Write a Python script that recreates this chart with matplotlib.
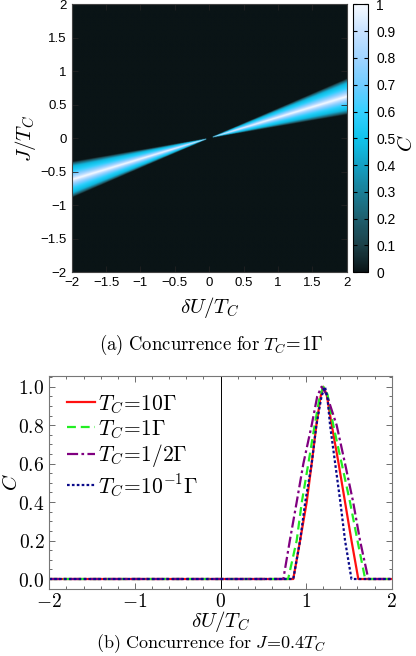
import numpy as np
import matplotlib
matplotlib.use("Agg")
import matplotlib.pyplot as plt
from matplotlib.colors import LinearSegmentedColormap
from matplotlib.ticker import MultipleLocator, FuncFormatter

plt.rcParams['mathtext.fontset'] = 'cm'

# ---------------- data ----------------
# (a) heatmap: concurrence profile across the ridge, as function of ratio J/dU
ridge_ratio = [0.10, 0.175, 0.19, 0.21, 0.245, 0.28, 0.31, 0.34, 0.375, 0.41, 0.43, 0.445, 0.55]
ridge_C = [0.0, 0.0, 0.22, 0.45, 0.58, 0.78, 1.0, 0.78, 0.58, 0.45, 0.22, 0.0, 0.0]
heat_range = [-2, 2]
cbar_ticks = [0, 0.1, 0.2, 0.3, 0.4, 0.5, 0.6, 0.7, 0.8, 0.9, 1]

# (b) curves of C vs dU/T_C at J = 0.4 T_C
x_red = [-2, 0.85, 0.93, 1.007, 1.065, 1.12, 1.17, 1.20, 1.24, 1.30, 1.38, 1.455, 1.53, 1.61, 2]
y_red = [0, 0, 0.2, 0.4, 0.6, 0.8, 0.95, 1.0, 0.96, 0.8, 0.6, 0.4, 0.2, 0, 0]
x_green = [-2, 0.79, 0.89, 0.95, 1.026, 1.10, 1.16, 1.20, 1.25, 1.318, 1.416, 1.513, 1.60, 1.69, 2]
y_green = [0, 0, 0.2, 0.4, 0.6, 0.8, 0.95, 1.0, 0.96, 0.8, 0.6, 0.4, 0.2, 0, 0]
x_purple = [-2, 0.734, 0.81, 0.89, 0.968, 1.065, 1.13, 1.18, 1.24, 1.357, 1.455, 1.55, 1.63, 1.727, 2]
y_purple = [0, 0, 0.2, 0.4, 0.6, 0.8, 0.95, 1.0, 0.96, 0.8, 0.6, 0.4, 0.2, 0, 0]
x_blue = [-2, 0.85, 0.93, 0.99, 1.065, 1.12, 1.18, 1.22, 1.25, 1.28, 1.34, 1.40, 1.455, 1.53, 2]
y_blue = [0, 0, 0.2, 0.4, 0.6, 0.8, 0.95, 1.0, 0.94, 0.8, 0.6, 0.4, 0.2, 0, 0]
labels = [r'$T_C\!=\!10\Gamma$', r'$T_C\!=\!1\Gamma$', r'$T_C\!=\!1/2\Gamma$',
          r'$T_C\!=\!10^{-1}\Gamma$']

# ---------------- figure ----------------
W, H = 416, 656
fig = plt.figure(figsize=(W / 100, H / 100), dpi=100)

def box(l, t, r, b):
    return [l / W, 1 - b / H, (r - l) / W, (b - t) / H]

# ---- (a) heatmap ----
ax1 = fig.add_axes(box(71.7, 4.3, 346.7, 272.3))
n = 500
du = np.linspace(heat_range[0], heat_range[1], n)
jj = np.linspace(heat_range[0], heat_range[1], n)
DU, JJ = np.meshgrid(du, jj)
with np.errstate(divide='ignore', invalid='ignore'):
    R = np.where(np.abs(DU) > 0.05, JJ / DU, -1)
C = np.interp(R, ridge_ratio, ridge_C, left=0, right=0)

cmap = LinearSegmentedColormap.from_list('conc', [
    (0.0, '#0a1416'), (0.1, '#1c4048'), (0.2, '#1e5f6e'), (0.3, '#1a7e96'),
    (0.4, '#14a0c4'), (0.5, '#10c4ec'), (0.6, '#34d0ff'), (0.7, '#70ccff'),
    (0.8, '#a0d4ff'), (0.9, '#c8e2ff'), (1.0, '#f6faff')])
im = ax1.imshow(C, origin='lower', extent=[-2, 2, -2, 2], aspect='auto',
                cmap=cmap, vmin=0, vmax=1, interpolation='bilinear')

sans = 'Liberation Sans'
fmt = FuncFormatter(lambda v, p: ('%g' % v).replace('-', '\u2212'))
ax1.xaxis.set_major_locator(MultipleLocator(0.5))
ax1.yaxis.set_major_locator(MultipleLocator(0.5))
ax1.xaxis.set_major_formatter(fmt)
ax1.yaxis.set_major_formatter(fmt)
ax1.tick_params(direction='in', length=4, width=0.6, colors='#222222',
                labelcolor='black', labelsize=9.5, top=True, right=True)
for lab in ax1.get_xticklabels() + ax1.get_yticklabels():
    lab.set_family(sans)
for s in ax1.spines.values():
    s.set_linewidth(0.8)
    s.set_color('#444444')
ax1.set_xlabel(r'$\delta U/T_C$', fontsize=15, labelpad=4)
ax1.set_ylabel(r'$J/T_C$', fontsize=15, labelpad=2)

cax = fig.add_axes(box(353.3, 4.3, 367.7, 272.3))
cb = fig.colorbar(im, cax=cax)
cb.set_ticks(cbar_ticks)
cb.ax.yaxis.set_major_formatter(fmt)
cb.ax.tick_params(direction='in', length=3, width=0.8, labelsize=10,
                  left=True, right=True, pad=6)
for lab in cb.ax.get_yticklabels():
    lab.set_family(sans)
cb.outline.set_linewidth(0.8)
fig.text(406 / W, 1 - 143 / H, r'$C$', fontsize=15, rotation=90,
         ha='center', va='center')

fig.text(211 / W, 1 - 345 / H, r'$\mathrm{(a)\ Concurrence\ for\ }T_C\!=\!1\Gamma$',
         fontsize=13.5, ha='center', va='center')

# ---- (b) line plot ----
ax2 = fig.add_axes(box(49.3, 376, 391.7, 589))
ax2.axvline(0, color='black', lw=0.7)
ax2.plot(x_red, y_red, color='#ff1010', lw=1.6, ls='-', label=labels[0])
ax2.plot(x_green, y_green, color='#22ee22', lw=1.6, ls=(0, (4, 2.2)), label=labels[1])
ax2.plot(x_purple, y_purple, color='#800080', lw=1.6, ls=(0, (5, 1.5, 1.2, 1.5)),
         label=labels[2])
ax2.plot(x_blue, y_blue, color='#0a0a8a', lw=1.6, ls=(0, (1.2, 1.0)), label=labels[3])
ax2.set_xlim(-2, 2)
ax2.set_ylim(-0.052, 1.056)
ax2.xaxis.set_major_locator(MultipleLocator(1))
ax2.xaxis.set_minor_locator(MultipleLocator(0.2))
ax2.yaxis.set_major_locator(MultipleLocator(0.2))
ax2.yaxis.set_minor_locator(MultipleLocator(0.05))
ax2.xaxis.set_major_formatter(FuncFormatter(lambda v, p: r'$%d$' % round(v)))
ax2.yaxis.set_major_formatter(FuncFormatter(lambda v, p: r'$%.1f$' % v))
ax2.tick_params(which='both', direction='in', top=True, right=True,
                colors='#555555', labelcolor='black', labelsize=14, width=0.6)
ax2.tick_params(which='major', length=4)
ax2.tick_params(which='minor', length=2)
ax2.tick_params(axis='x', pad=2)
for s in ax2.spines.values():
    s.set_linewidth(0.8)
    s.set_color('#777777')
ax2.set_xlabel(r'$\delta U/T_C$', fontsize=15, labelpad=-1)
ax2.set_ylabel(r'$C$', fontsize=15, labelpad=-2)
ax2.legend(loc='upper left', frameon=False, fontsize=15.5, handlelength=1.3,
           handletextpad=0.15, labelspacing=0.12, borderaxespad=0.6,
           borderpad=0.2)

fig.text(211 / W, 1 - 644 / H, r'$\mathrm{(b)\ Concurrence\ for\ }J\!=\!0.4T_C$',
         fontsize=13, ha='center', va='center')

fig.savefig('out.png', dpi=100)
